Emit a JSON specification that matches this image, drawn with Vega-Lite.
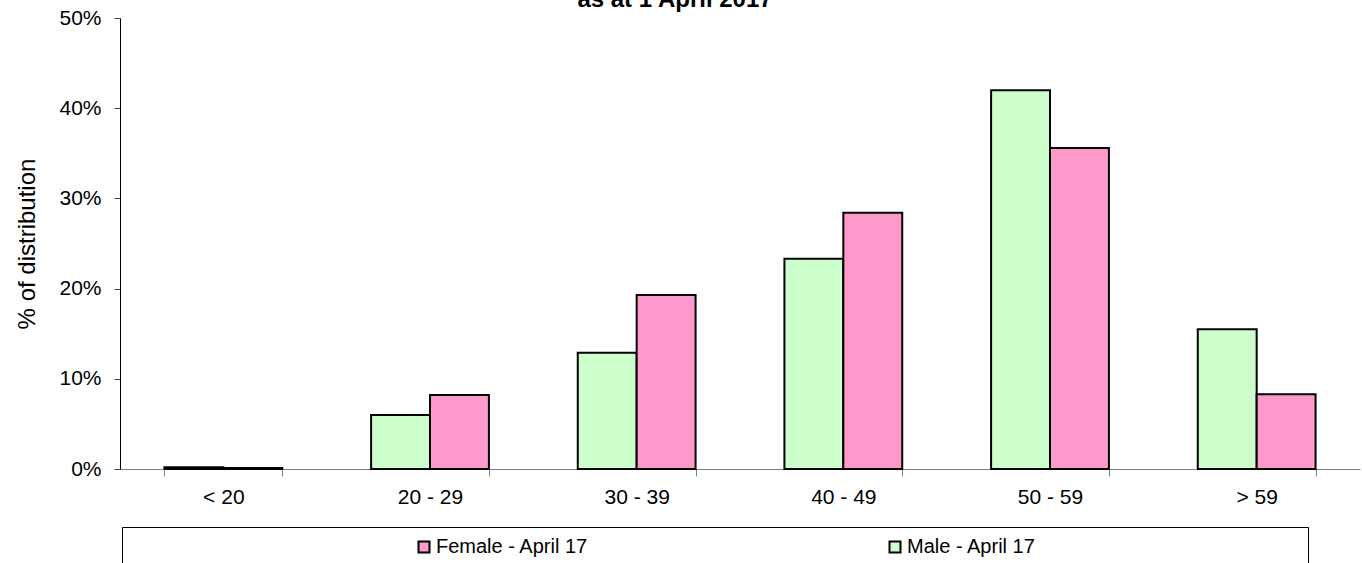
{
  "$schema": "https://vega.github.io/schema/vega-lite/v6.json",
  "width": 1240,
  "height": 451,
  "autosize": {"type": "none"},
  "padding": {"left": 120, "top": 18, "right": 2, "bottom": 94},
  "background": "white",
  "title": {
    "text": "as at 1 April 2017",
    "font": "Liberation Sans",
    "fontSize": 24,
    "fontWeight": "bold",
    "color": "black",
    "anchor": "middle",
    "frame": "group",
    "dx": -65,
    "baseline": "alphabetic",
    "offset": -23.5
  },
  "data": {
    "values": [
      {"age": "< 20", "series": "Male - April 17", "share": 0.002},
      {"age": "< 20", "series": "Female - April 17", "share": 0.001},
      {"age": "20 - 29", "series": "Male - April 17", "share": 0.060},
      {"age": "20 - 29", "series": "Female - April 17", "share": 0.082},
      {"age": "30 - 39", "series": "Male - April 17", "share": 0.129},
      {"age": "30 - 39", "series": "Female - April 17", "share": 0.193},
      {"age": "40 - 49", "series": "Male - April 17", "share": 0.233},
      {"age": "40 - 49", "series": "Female - April 17", "share": 0.284},
      {"age": "50 - 59", "series": "Male - April 17", "share": 0.420},
      {"age": "50 - 59", "series": "Female - April 17", "share": 0.356},
      {"age": "> 59", "series": "Male - April 17", "share": 0.155},
      {"age": "> 59", "series": "Female - April 17", "share": 0.083}
    ]
  },
  "mark": {"type": "bar", "stroke": "black", "strokeWidth": 2},
  "encoding": {
    "x": {
      "field": "age",
      "type": "nominal",
      "sort": ["< 20", "20 - 29", "30 - 39", "40 - 49", "50 - 59", "> 59"],
      "scale": {"paddingInner": 0.43, "paddingOuter": 0.215},
      "axis": {
        "title": null,
        "labelAngle": 0,
        "labelFont": "Liberation Sans",
        "labelFontSize": 21,
        "labelColor": "black",
        "labelPadding": 10,
        "tickBand": "extent",
        "tickSize": 7,
        "tickColor": "#808080",
        "domainColor": "#808080",
        "grid": false
      }
    },
    "xOffset": {
      "field": "series",
      "type": "nominal",
      "scale": {"domain": ["Male - April 17", "Female - April 17"], "paddingInner": 0, "paddingOuter": 0}
    },
    "y": {
      "field": "share",
      "type": "quantitative",
      "scale": {"domain": [0, 0.5], "nice": false},
      "axis": {
        "title": "% of distribution",
        "titleFont": "Liberation Sans",
        "titleFontSize": 24,
        "titleFontWeight": "normal",
        "titleColor": "black",
        "titlePadding": 19,
        "values": [0, 0.1, 0.2, 0.3, 0.4, 0.5],
        "format": ".0%",
        "labelFont": "Liberation Sans",
        "labelFontSize": 21,
        "labelColor": "black",
        "labelPadding": 13,
        "tickSize": 6,
        "tickColor": "#404040",
        "domainColor": "#000000",
        "grid": false
      }
    },
    "color": {
      "field": "series",
      "type": "nominal",
      "scale": {"domain": ["Female - April 17", "Male - April 17"], "range": ["#FF99CC", "#CCFFCC"]},
      "legend": {
        "orient": "none",
        "legendX": 2,
        "legendY": 509,
        "direction": "horizontal",
        "columns": 2,
        "columnPadding": 296,
        "title": "\u00a0",
        "titleOrient": "left",
        "titlePadding": 282,
        "titleFontSize": 20,
        "padding": 10,
        "strokeColor": "black",
        "symbolType": "square",
        "symbolSize": 121,
        "symbolStrokeColor": "black",
        "symbolStrokeWidth": 2,
        "labelFont": "Liberation Sans",
        "labelFontSize": 20,
        "labelColor": "black",
        "labelOffset": 2,
        "labelLimit": 2000,
        "labelExpr": "indexof(datum.label, 'Male') === 0 ? pad(datum.label, 62, '\u00a0') + '\u200b' : datum.label"
      }
    }
  },
  "config": {"view": {"stroke": null}, "font": "Liberation Sans"}
}
